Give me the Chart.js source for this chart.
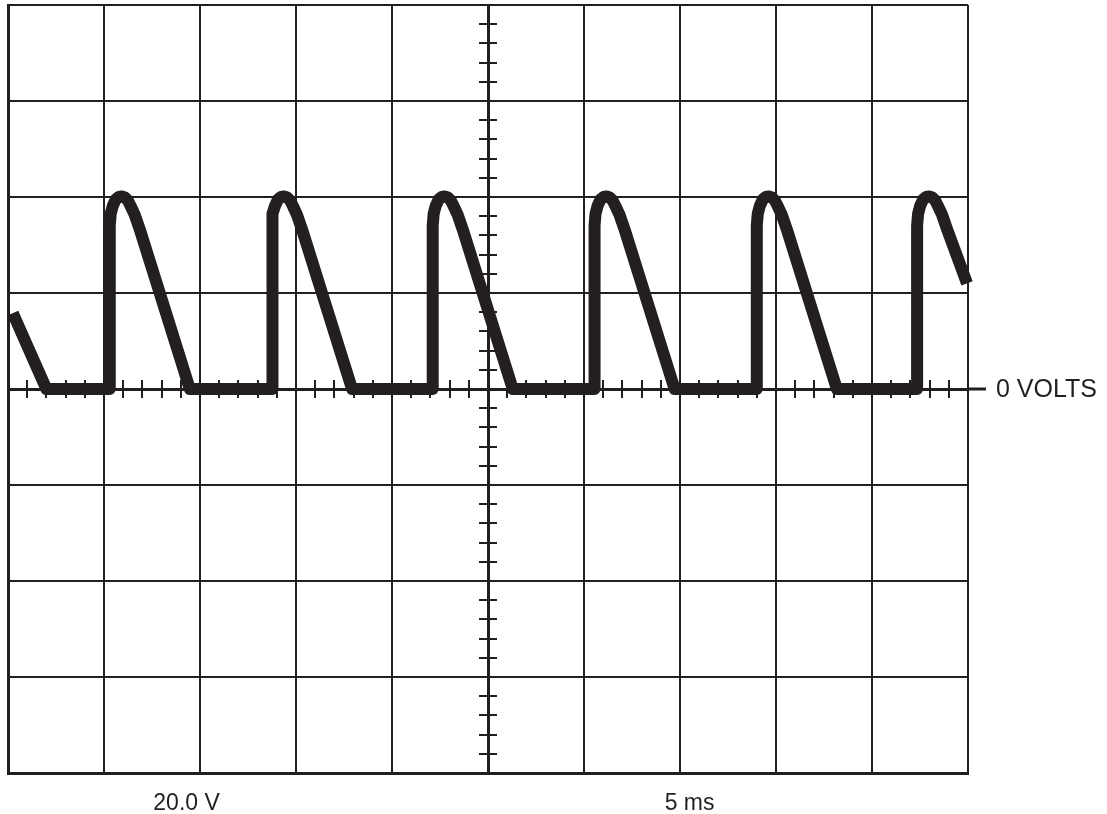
<!DOCTYPE html>
<html>
<head>
<meta charset="utf-8">
<script src="https://cdn.jsdelivr.net/npm/chart.js@4"></script>
<style>
  body { margin: 0; background: #fff; }
  #scope { display: block; }
</style>
</head>
<body>
<canvas id="scope" width="1107" height="814"></canvas>
<script>
// trace: time in ms (5 ms/div), volts (20 V/div)
const timeMs = [
	0.25, 2.0,
	5.3, 5.3, 5.35, 5.46, 5.61, 5.77, 5.93, 6.08, 6.24, 6.39, 6.6, 6.86, 9.47,
	13.75, 13.75, 13.8, 13.91, 14.06, 14.22, 14.38, 14.53, 14.69, 14.84, 15.05, 15.31, 17.92,
	22.12, 22.12, 22.17, 22.28, 22.43, 22.59, 22.75, 22.9, 23.06, 23.21, 23.42, 23.68, 26.29,
	30.55, 30.55, 30.6, 30.71, 30.86, 31.02, 31.18, 31.33, 31.49, 31.64, 31.85, 32.11, 34.72,
	39.0, 39.0, 39.05, 39.16, 39.31, 39.47, 39.63, 39.78, 39.94, 40.09, 40.3, 40.56, 43.17,
	47.35, 47.35, 47.4, 47.51, 47.66, 47.82, 47.98, 48.13, 48.29, 48.44, 48.65, 48.91, 49.95,
];
const volts = [
	15.8, 0,
	0, 34, 36.5, 38.2, 39.5, 40, 40.1, 39.9, 39.3, 38.1, 36.3, 33.3, 0,
	0, 34, 36.5, 38.2, 39.5, 40, 40.1, 39.9, 39.3, 38.1, 36.3, 33.3, 0,
	0, 34, 36.5, 38.2, 39.5, 40, 40.1, 39.9, 39.3, 38.1, 36.3, 33.3, 0,
	0, 34, 36.5, 38.2, 39.5, 40, 40.1, 39.9, 39.3, 38.1, 36.3, 33.3, 0,
	0, 34, 36.5, 38.2, 39.5, 40, 40.1, 39.9, 39.3, 38.1, 36.3, 33.3, 0,
	0, 34, 36.5, 38.2, 39.5, 40, 40.1, 39.9, 39.3, 38.1, 36.3, 33.3, 22,
];

// graticule: 10 x 8 divisions, 5 minor marks per division on the centre axes
const timeRange = [0, 50];
const timePerDiv = 5;
const voltRange = [-80, 80];
const voltsPerDiv = 20;
const minorPerDiv = 5;

const voltLabel = '20.0 V';
const timeLabel = '5 ms';
const zeroLabel = '0 VOLTS';

const ink = '#231f20';
const fontFamily = '"Liberation Sans", Arial, sans-serif';

const trace = timeMs.map((t, i) => ({ x: t, y: volts[i] }));

// centre cross with minor marks + captions
const graticule = {
	id: 'graticule',
	beforeDatasetsDraw(chart) {
		const ctx = chart.ctx;
		const xs = chart.scales.x;
		const ys = chart.scales.y;
		const x0 = xs.getPixelForValue((timeRange[0] + timeRange[1]) / 2);
		const y0 = ys.getPixelForValue(0);
		ctx.save();
		ctx.strokeStyle = ink;
		ctx.lineWidth = 2;
		ctx.beginPath();
		for (let t = timeRange[0]; t <= timeRange[1] + 0.001; t += timePerDiv / minorPerDiv) {
			const px = Math.round(xs.getPixelForValue(t));
			ctx.moveTo(px, y0 - 9);
			ctx.lineTo(px, y0 + 9);
		}
		for (let v = voltRange[0]; v <= voltRange[1] + 0.001; v += voltsPerDiv / minorPerDiv) {
			const py = Math.round(ys.getPixelForValue(v));
			ctx.moveTo(x0 - 9, py);
			ctx.lineTo(x0 + 9, py);
		}
		ctx.stroke();
		// 0 V line runs out past the right edge
		ctx.lineWidth = 3;
		ctx.beginPath();
		ctx.moveTo(chart.chartArea.right, y0);
		ctx.lineTo(chart.chartArea.right + 18, y0);
		ctx.stroke();
		ctx.restore();
	},
	afterDraw(chart) {
		const ctx = chart.ctx;
		const xs = chart.scales.x;
		const ys = chart.scales.y;
		ctx.save();
		ctx.fillStyle = ink;
		ctx.textBaseline = 'middle';
		ctx.textAlign = 'left';
		ctx.font = '25px ' + fontFamily;
		ctx.fillText(zeroLabel, chart.chartArea.right + 28, ys.getPixelForValue(0) + 1);
		ctx.font = '23px ' + fontFamily;
		ctx.textAlign = 'center';
		ctx.fillText(voltLabel, xs.getPixelForValue(9.3), chart.chartArea.bottom + 31);
		ctx.fillText(timeLabel, xs.getPixelForValue(35.5), chart.chartArea.bottom + 31);
		ctx.restore();
	},
};

new Chart(document.getElementById('scope'), {
	type: 'line',
	data: {
		datasets: [
			{
				data: trace,
				borderColor: ink,
				borderWidth: 12,
				borderJoinStyle: 'round',
				borderCapStyle: 'butt',
				pointRadius: 0,
				tension: 0,
				fill: false,
			},
		],
	},
	options: {
		responsive: false,
		animation: false,
		layout: {
			padding: { left: 8, top: 5, right: 139, bottom: 41 },
		},
		plugins: {
			legend: { display: false },
			tooltip: { enabled: false },
		},
		scales: {
			x: {
				type: 'linear',
				suggestedMin: timeRange[0],
				suggestedMax: timeRange[1],
				ticks: { display: false, stepSize: timePerDiv },
				grid: {
					color: ink,
					lineWidth: (c) => (c.tick && c.tick.value === 25 ? 3 : 2),
					drawTicks: false,
				},
				border: { display: true, color: ink, width: 3 },
			},
			y: {
				min: voltRange[0],
				max: voltRange[1],
				ticks: { display: false, stepSize: voltsPerDiv },
				grid: {
					color: ink,
					lineWidth: (c) => (c.tick && c.tick.value === 0 ? 3 : 2),
					drawTicks: false,
				},
				border: { display: true, color: ink, width: 3 },
			},
		},
	},
	plugins: [graticule],
});
</script>
</body>
</html>
